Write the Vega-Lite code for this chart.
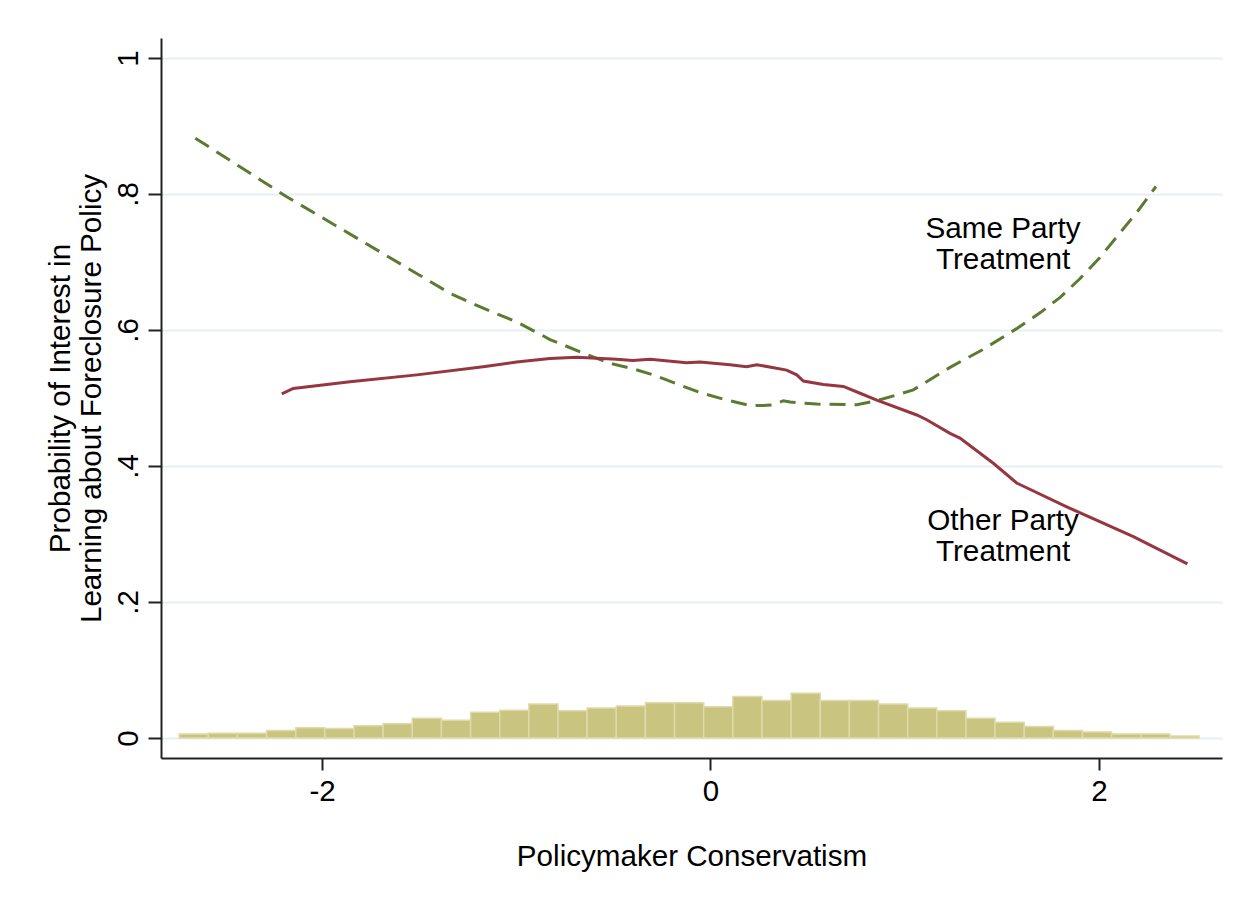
{
  "$schema": "https://vega.github.io/schema/vega-lite/v6.json",
  "width": 1061,
  "height": 720,
  "autosize": "none",
  "padding": {"left": 161, "top": 38, "right": 27, "bottom": 151},
  "background": "white",
  "config": {
    "view": {"stroke": null},
    "font": "Liberation Sans",
    "axis": {
      "labelFont": "Liberation Sans",
      "titleFont": "Liberation Sans",
      "labelFontSize": 29.5,
      "titleFontSize": 29.6,
      "labelColor": "#000000",
      "titleColor": "#000000",
      "titleFontWeight": "normal",
      "domainColor": "#222222",
      "domainWidth": 2,
      "tickColor": "#222222",
      "tickWidth": 2
    }
  },
  "datasets": {
    "hist": [
      {"x0": -2.735, "x1": -2.585, "h": 0.006},
      {"x0": -2.585, "x1": -2.435, "h": 0.007},
      {"x0": -2.435, "x1": -2.285, "h": 0.007},
      {"x0": -2.285, "x1": -2.135, "h": 0.011},
      {"x0": -2.135, "x1": -1.985, "h": 0.015},
      {"x0": -1.985, "x1": -1.835, "h": 0.014},
      {"x0": -1.835, "x1": -1.685, "h": 0.018},
      {"x0": -1.685, "x1": -1.535, "h": 0.021},
      {"x0": -1.535, "x1": -1.385, "h": 0.029},
      {"x0": -1.385, "x1": -1.235, "h": 0.026},
      {"x0": -1.235, "x1": -1.085, "h": 0.038},
      {"x0": -1.085, "x1": -0.935, "h": 0.041},
      {"x0": -0.935, "x1": -0.785, "h": 0.050},
      {"x0": -0.785, "x1": -0.635, "h": 0.040},
      {"x0": -0.635, "x1": -0.485, "h": 0.044},
      {"x0": -0.485, "x1": -0.335, "h": 0.047},
      {"x0": -0.335, "x1": -0.185, "h": 0.052},
      {"x0": -0.185, "x1": -0.035, "h": 0.052},
      {"x0": -0.035, "x1": 0.115, "h": 0.046},
      {"x0": 0.115, "x1": 0.265, "h": 0.061},
      {"x0": 0.265, "x1": 0.415, "h": 0.055},
      {"x0": 0.415, "x1": 0.565, "h": 0.066},
      {"x0": 0.565, "x1": 0.715, "h": 0.055},
      {"x0": 0.715, "x1": 0.865, "h": 0.055},
      {"x0": 0.865, "x1": 1.015, "h": 0.050},
      {"x0": 1.015, "x1": 1.165, "h": 0.044},
      {"x0": 1.165, "x1": 1.315, "h": 0.040},
      {"x0": 1.315, "x1": 1.465, "h": 0.029},
      {"x0": 1.465, "x1": 1.615, "h": 0.023},
      {"x0": 1.615, "x1": 1.765, "h": 0.017},
      {"x0": 1.765, "x1": 1.915, "h": 0.011},
      {"x0": 1.915, "x1": 2.065, "h": 0.009},
      {"x0": 2.065, "x1": 2.215, "h": 0.006},
      {"x0": 2.215, "x1": 2.365, "h": 0.006},
      {"x0": 2.365, "x1": 2.515, "h": 0.003}
    ],
    "same": [
      {"x": -2.652, "p": 0.882},
      {"x": -2.40, "p": 0.836},
      {"x": -2.182, "p": 0.796},
      {"x": -1.95, "p": 0.757},
      {"x": -1.701, "p": 0.715},
      {"x": -1.50, "p": 0.681},
      {"x": -1.341, "p": 0.654},
      {"x": -1.17, "p": 0.632},
      {"x": -0.998, "p": 0.612},
      {"x": -0.826, "p": 0.586},
      {"x": -0.637, "p": 0.564},
      {"x": -0.517, "p": 0.551},
      {"x": -0.40, "p": 0.543},
      {"x": -0.294, "p": 0.534},
      {"x": -0.157, "p": 0.519},
      {"x": -0.054, "p": 0.508},
      {"x": 0.083, "p": 0.497},
      {"x": 0.203, "p": 0.489},
      {"x": 0.27, "p": 0.489},
      {"x": 0.323, "p": 0.490},
      {"x": 0.375, "p": 0.496},
      {"x": 0.41, "p": 0.494},
      {"x": 0.547, "p": 0.491},
      {"x": 0.753, "p": 0.490},
      {"x": 0.856, "p": 0.496},
      {"x": 0.976, "p": 0.506},
      {"x": 1.044, "p": 0.512},
      {"x": 1.233, "p": 0.545},
      {"x": 1.40, "p": 0.571},
      {"x": 1.576, "p": 0.602},
      {"x": 1.70, "p": 0.626},
      {"x": 1.80, "p": 0.648},
      {"x": 1.90, "p": 0.675},
      {"x": 2.00, "p": 0.705},
      {"x": 2.10, "p": 0.740},
      {"x": 2.20, "p": 0.775},
      {"x": 2.293, "p": 0.811}
    ],
    "other": [
      {"x": -2.207, "p": 0.506},
      {"x": -2.148, "p": 0.514},
      {"x": -1.856, "p": 0.524},
      {"x": -1.512, "p": 0.534},
      {"x": -1.17, "p": 0.546},
      {"x": -0.998, "p": 0.553},
      {"x": -0.826, "p": 0.558},
      {"x": -0.689, "p": 0.560},
      {"x": -0.483, "p": 0.557},
      {"x": -0.40, "p": 0.555},
      {"x": -0.311, "p": 0.557},
      {"x": -0.123, "p": 0.552},
      {"x": -0.054, "p": 0.553},
      {"x": 0.10, "p": 0.549},
      {"x": 0.186, "p": 0.546},
      {"x": 0.238, "p": 0.549},
      {"x": 0.392, "p": 0.541},
      {"x": 0.444, "p": 0.534},
      {"x": 0.478, "p": 0.525},
      {"x": 0.581, "p": 0.520},
      {"x": 0.684, "p": 0.517},
      {"x": 0.77, "p": 0.507},
      {"x": 0.856, "p": 0.497},
      {"x": 1.062, "p": 0.475},
      {"x": 1.113, "p": 0.468},
      {"x": 1.233, "p": 0.448},
      {"x": 1.284, "p": 0.441},
      {"x": 1.456, "p": 0.404},
      {"x": 1.576, "p": 0.375},
      {"x": 1.834, "p": 0.340},
      {"x": 2.177, "p": 0.296},
      {"x": 2.455, "p": 0.256}
    ],
    "labels": [
      {"x": 1.506, "p": 0.7353, "t": ["Same Party", "Treatment"]},
      {"x": 1.506, "p": 0.3059, "t": ["Other Party", "Treatment"]}
    ]
  },
  "layer": [
    {
      "data": {"name": "hist"},
      "mark": {"type": "rect", "fill": "#c9c47f", "stroke": "#dedaa9", "strokeWidth": 1.5},
      "encoding": {
        "x": {
          "field": "x0", "type": "quantitative",
          "scale": {"domain": [-2.8288, 2.6332], "nice": false, "zero": false},
          "axis": {
            "values": [-2, 0, 2],
            "labelExpr": "datum.value < 0 ? '-' + format(-datum.value, 'd') : format(datum.value, 'd')",
            "title": "Policymaker Conservatism",
            "tickSize": 12,
            "labelPadding": 7,
            "titlePadding": 37,
            "grid": false
          }
        },
        "x2": {"field": "x1"},
        "y": {
          "field": "h", "type": "quantitative",
          "scale": {"domain": [-0.0294, 1.0294], "nice": false, "zero": false},
          "axis": {
            "values": [0, 0.2, 0.4, 0.6, 0.8, 1],
            "labelExpr": "datum.value == 0 ? '0' : (datum.value == 1 ? '1' : '.' + format(datum.value * 10, 'd'))",
            "labelAngle": -90,
            "labelAlign": "center",
            "labelBaseline": "alphabetic",
            "labelPadding": 11,
            "tickSize": 13,
            "grid": true,
            "gridColor": "#e8eff2",
            "gridWidth": 2,
            "title": ["Probability of Interest in", "Learning about Foreclosure Policy"],
            "titleLineHeight": 31,
            "titlePadding": 7
          }
        },
        "y2": {"datum": 0}
      }
    },
    {
      "data": {"name": "same"},
      "mark": {"type": "line", "color": "#5b7b33", "strokeWidth": 3, "strokeDash": [16, 9]},
      "encoding": {
        "x": {"field": "x", "type": "quantitative"},
        "y": {"field": "p", "type": "quantitative"}
      }
    },
    {
      "data": {"name": "other"},
      "mark": {"type": "line", "color": "#963640", "strokeWidth": 3},
      "encoding": {
        "x": {"field": "x", "type": "quantitative"},
        "y": {"field": "p", "type": "quantitative"}
      }
    },
    {
      "data": {"name": "labels"},
      "mark": {"type": "text", "font": "Liberation Sans", "fontSize": 29.7, "align": "center", "baseline": "alphabetic", "lineHeight": 31, "color": "#000000"},
      "encoding": {
        "x": {"field": "x", "type": "quantitative"},
        "y": {"field": "p", "type": "quantitative"},
        "text": {"field": "t"}
      }
    }
  ]
}
